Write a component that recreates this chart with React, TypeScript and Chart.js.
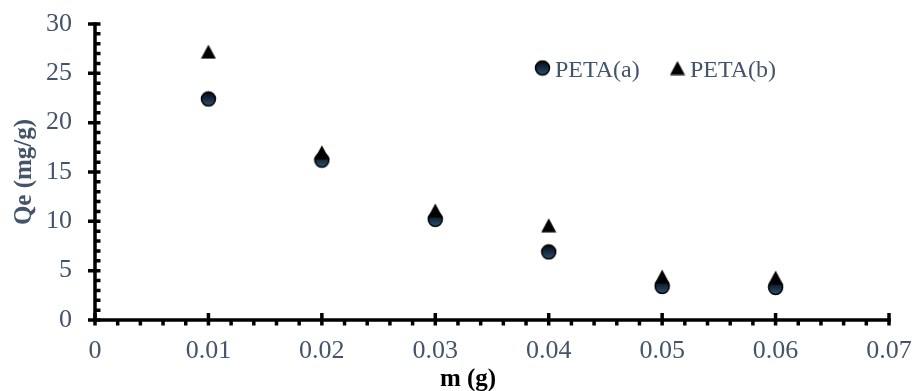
import React, { useEffect, useRef } from 'react';
import { Chart, registerables } from 'chart.js';

Chart.register(...registerables);

// ---- data ----
const massValues = [0.01, 0.02, 0.03, 0.04, 0.05, 0.06];
const petaA = [22.4, 16.2, 10.2, 6.9, 3.4, 3.3];
const petaB = [27.2, 17.0, 11.1, 9.6, 4.4, 4.3];
const seriesLabels = ['PETA(a)', 'PETA(b)'];
const xTitle = 'm (g)';
const yTitle = 'Qe (mg/g)';
const xRange = [0, 0.07];
const yRange = [0, 30];
const xMajorStep = 0.01;
const xMinorStep = 0.002;
const yMajorStep = 5;
const yMinorStep = 1;

const SLATE = '#44546A';
const FONT = '"Liberation Serif", "Times New Roman", serif';

function makeCircle(): HTMLCanvasElement {
  const c = document.createElement('canvas');
  c.width = 17;
  c.height = 17;
  const ctx = c.getContext('2d')!;
  const g = ctx.createLinearGradient(0, 1, 0, 16);
  g.addColorStop(0, '#05090f');
  g.addColorStop(0.45, '#15273b');
  g.addColorStop(1, '#2f5478');
  ctx.beginPath();
  ctx.arc(8.5, 8.5, 7, 0, Math.PI * 2);
  ctx.fillStyle = g;
  ctx.fill();
  ctx.lineWidth = 1.5;
  ctx.strokeStyle = '#000';
  ctx.stroke();
  return c;
}

function makeTriangle(): HTMLCanvasElement {
  const c = document.createElement('canvas');
  c.width = 16;
  c.height = 15;
  const ctx = c.getContext('2d')!;
  ctx.beginPath();
  ctx.moveTo(8, 0.5);
  ctx.lineTo(15.5, 14.5);
  ctx.lineTo(0.5, 14.5);
  ctx.closePath();
  ctx.fillStyle = '#000';
  ctx.fill();
  return c;
}

function steps(min: number, max: number, step: number): number[] {
  const n = Math.round((max - min) / step);
  const out: number[] = [];
  for (let i = 0; i <= n; i++) out.push(+(min + i * step).toFixed(6));
  return out;
}

const axesPlugin = {
  id: 'customAxes',
  beforeDatasetsDraw(chart: any) {
    const { ctx } = chart;
    const xs = chart.scales.x;
    const ys = chart.scales.y;
    const x0 = xs.getPixelForValue(xRange[0]);
    const x1 = xs.getPixelForValue(xRange[1]);
    const y0 = ys.getPixelForValue(yRange[0]);
    const y1 = ys.getPixelForValue(yRange[1]);
    ctx.save();
    ctx.strokeStyle = '#000';
    ctx.lineCap = 'butt';
    ctx.lineWidth = 3.5;
    ctx.beginPath();
    ctx.moveTo(x0, y0 + 1.75);
    ctx.lineTo(x0, y1 - 1.75);
    ctx.moveTo(x0 - 1.75, y0);
    ctx.lineTo(x1 + 1.75, y0);
    ctx.stroke();
    ctx.beginPath();
    for (const v of steps(yRange[0], yRange[1], yMinorStep)) {
      const py = ys.getPixelForValue(v);
      const major = Math.abs(v / yMajorStep - Math.round(v / yMajorStep)) < 1e-6;
      ctx.moveTo(major ? x0 - 7 : x0, py);
      ctx.lineTo(x0 + 5.5, py);
    }
    for (const v of steps(xRange[0], xRange[1], xMinorStep)) {
      const px = xs.getPixelForValue(v);
      const major = Math.abs(v / xMajorStep - Math.round(v / xMajorStep)) < 1e-6;
      ctx.moveTo(px, major ? y0 - 7 : y0);
      ctx.lineTo(px, y0 + 5.5);
    }
    ctx.stroke();
    ctx.restore();
  },
  afterDraw(chart: any) {
    const { ctx, chartArea } = chart;
    ctx.save();
    ctx.font = `bold 25px ${FONT}`;
    ctx.fillStyle = '#000';
    ctx.textAlign = 'center';
    ctx.textBaseline = 'alphabetic';
    const cx = (chartArea.left + chartArea.right) / 2 - 24;
    ctx.fillText(xTitle, cx, chart.height - 5);
    ctx.save();
    ctx.translate(25, (chartArea.top + chartArea.bottom) / 2);
    ctx.rotate(-Math.PI / 2);
    ctx.fillStyle = SLATE;
    ctx.textBaseline = 'middle';
    ctx.fillText(yTitle, 0, 0);
    ctx.restore();
    const items = chart.data.datasets.map((d: any) => ({ label: d.label, img: d.pointStyle }));
    const legendX = [535, 670];
    const legendY = 68;
    ctx.font = `24px ${FONT}`;
    ctx.fillStyle = SLATE;
    ctx.textAlign = 'left';
    ctx.textBaseline = 'alphabetic';
    items.forEach((it: any, i: number) => {
      const img = it.img as HTMLCanvasElement;
      ctx.drawImage(img, legendX[i] + 7.5 - img.width / 2, legendY - img.height / 2);
      ctx.fillText(it.label, legendX[i] + 20, legendY + 8.5);
    });
    ctx.restore();
  },
};

function zeroPad(s: any) {
  s.paddingTop = 0;
  s.paddingBottom = 0;
  s.paddingLeft = 0;
  s.paddingRight = 0;
}

export default function App() {
  const canvasRef = useRef<HTMLCanvasElement | null>(null);

  useEffect(() => {
    document.body.style.margin = '0';
    const canvas = canvasRef.current!;
    const circle = makeCircle();
    const tri = makeTriangle();
    const chart = new Chart(canvas, {
      type: 'scatter',
      data: {
        datasets: [
          {
            label: seriesLabels[0],
            data: massValues.map((m, i) => ({ x: m, y: petaA[i] })),
            pointStyle: circle as any,
            order: 1,
          },
          {
            label: seriesLabels[1],
            data: massValues.map((m, i) => ({ x: m, y: petaB[i] })),
            pointStyle: tri as any,
            order: 0,
          },
        ],
      },
      options: {
        animation: false,
        responsive: false,
        maintainAspectRatio: false,
        devicePixelRatio: 1,
        layout: { padding: { left: 0, right: 23, top: 24, bottom: 0 } },
        plugins: {
          legend: { display: false },
          tooltip: { enabled: false },
          title: { display: false },
        },
        scales: {
          x: {
            type: 'linear',
            min: xRange[0],
            max: xRange[1],
            grid: { display: false, drawTicks: false, tickLength: 0 },
            border: { display: false },
            ticks: {
              stepSize: xMajorStep,
              padding: 16,
              color: SLATE,
              font: { family: FONT, size: 26 },
              maxRotation: 0,
              autoSkip: false,
              callback: (v: any) => String(+Number(v).toFixed(2)),
            },
            afterFit: (s: any) => {
              s.height = 71;
              zeroPad(s);
            },
          },
          y: {
            type: 'linear',
            min: yRange[0],
            max: yRange[1],
            grid: { display: false, drawTicks: false, tickLength: 0 },
            border: { display: false },
            ticks: {
              stepSize: yMajorStep,
              padding: 23,
              color: SLATE,
              font: { family: FONT, size: 26 },
            },
            afterFit: (s: any) => {
              s.width = 95;
              zeroPad(s);
            },
          },
        },
      },
      plugins: [axesPlugin],
    });
    return () => chart.destroy();
  }, []);

  return (
    <div style={{ width: 912, height: 391 }}>
      <canvas ref={canvasRef} width={912} height={391} style={{ display: 'block' }} />
    </div>
  );
}
